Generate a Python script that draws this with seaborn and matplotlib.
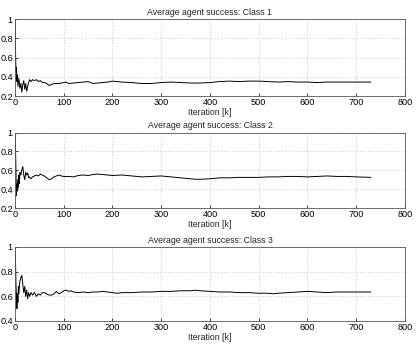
import matplotlib
matplotlib.use("Agg")
import matplotlib.pyplot as plt
import seaborn as sns
import pandas as pd

# ---- data ----
x1 = [0, 1, 2, 3, 4, 5, 6, 8, 10, 12, 14, 16, 18, 20, 22, 24, 26, 28, 30, 33, 36, 40, 44, 48, 52,
      56, 60, 65, 70, 75, 80, 90, 100, 105, 110, 120, 130, 140, 150, 160, 170, 180, 190, 200, 210,
      220, 240, 260, 280, 300, 320, 340, 360, 380, 400, 420, 440, 460, 480, 500, 520, 540, 560, 580,
      600, 620, 640, 660, 680, 700, 730]
y1 = [1.0, 0.7, 0.45, 0.5, 0.35, 0.42, 0.3, 0.38, 0.28, 0.33, 0.24, 0.32, 0.36, 0.27, 0.33, 0.25,
      0.3, 0.34, 0.37, 0.35, 0.37, 0.36, 0.37, 0.35, 0.36, 0.34, 0.34, 0.33, 0.31, 0.32, 0.33, 0.33,
      0.34, 0.345, 0.33, 0.335, 0.34, 0.345, 0.35, 0.33, 0.335, 0.34, 0.345, 0.355, 0.35, 0.345, 0.34,
      0.33, 0.33, 0.34, 0.345, 0.34, 0.335, 0.335, 0.34, 0.35, 0.355, 0.35, 0.355, 0.355, 0.35, 0.345,
      0.35, 0.345, 0.345, 0.34, 0.345, 0.345, 0.345, 0.345, 0.345]

x2 = [0, 1, 2, 3, 4, 5, 6, 7, 8, 9, 10, 12, 14, 16, 18, 20, 22, 24, 26, 28, 30, 33, 36, 40, 44, 48,
      52, 56, 60, 65, 70, 75, 80, 85, 90, 95, 100, 110, 120, 130, 140, 150, 160, 170, 180, 190, 200,
      220, 240, 260, 280, 300, 320, 340, 360, 370, 380, 400, 420, 440, 460, 480, 500, 520, 540, 560,
      580, 600, 620, 640, 660, 680, 700, 730]
y2 = [1.0, 0.85, 0.6, 0.33, 0.45, 0.38, 0.5, 0.42, 0.55, 0.46, 0.58, 0.55, 0.6, 0.64, 0.55, 0.5,
      0.58, 0.55, 0.57, 0.52, 0.53, 0.51, 0.53, 0.54, 0.55, 0.54, 0.56, 0.55, 0.54, 0.52, 0.5, 0.51,
      0.53, 0.54, 0.55, 0.54, 0.535, 0.535, 0.53, 0.545, 0.55, 0.545, 0.555, 0.56, 0.555, 0.55, 0.545,
      0.55, 0.54, 0.53, 0.535, 0.54, 0.53, 0.52, 0.51, 0.505, 0.505, 0.51, 0.52, 0.52, 0.525, 0.525,
      0.525, 0.53, 0.53, 0.535, 0.535, 0.53, 0.535, 0.54, 0.535, 0.535, 0.53, 0.525]

x3 = [0, 1, 2, 3, 4, 5, 6, 7, 8, 10, 12, 14, 16, 18, 20, 22, 24, 26, 28, 30, 33, 36, 40, 44, 48, 52,
      56, 60, 65, 70, 75, 80, 85, 90, 95, 100, 105, 110, 115, 120, 130, 140, 150, 160, 170, 180, 190,
      200, 210, 220, 240, 260, 280, 300, 320, 340, 360, 370, 380, 400, 420, 440, 460, 480, 500, 520,
      530, 540, 560, 580, 600, 620, 640, 660, 680, 700, 730]
y3 = [1.0, 0.9, 0.7, 0.6, 0.5, 0.62, 0.55, 0.68, 0.62, 0.72, 0.75, 0.77, 0.7, 0.63, 0.68, 0.6, 0.65,
      0.58, 0.63, 0.6, 0.63, 0.61, 0.63, 0.6, 0.62, 0.61, 0.63, 0.63, 0.62, 0.61, 0.61, 0.62, 0.64,
      0.62, 0.63, 0.645, 0.65, 0.64, 0.645, 0.635, 0.63, 0.635, 0.63, 0.635, 0.635, 0.64, 0.635, 0.63,
      0.625, 0.63, 0.63, 0.635, 0.635, 0.64, 0.64, 0.645, 0.645, 0.65, 0.645, 0.64, 0.635, 0.635, 0.63,
      0.63, 0.625, 0.625, 0.62, 0.625, 0.63, 0.635, 0.64, 0.635, 0.63, 0.635, 0.635, 0.635, 0.635]

titles = ["Average agent success: Class 1", "Average agent success: Class 2",
          "Average agent success: Class 3"]
xlabel = "Iteration [k]"
xticks = [0, 100, 200, 300, 400, 500, 600, 700, 800]
yticks_list = [[0.2, 0.4, 0.6, 0.8, 1.0], [0.2, 0.4, 0.6, 0.8, 1.0], [0.4, 0.6, 0.8, 1.0]]
ylims = [(0.2, 1.0), (0.2, 1.0), (0.4, 1.0)]

sns.set_style("ticks")
plt.rcParams["font.family"] = ["Liberation Sans", "DejaVu Sans"]
plt.rcParams["font.size"] = 6.5

fig = plt.figure(figsize=(4.16, 3.46), dpi=100)
boxes = [(0.036, 0.7225, 0.9375, 0.2225),
         (0.036, 0.3988, 0.9375, 0.2180),
         (0.036, 0.0723, 0.9375, 0.2139)]

series = [(x1, y1), (x2, y2), (x3, y3)]

def fmt(v):
    return "1" if abs(v - 1) < 1e-9 else f"{v:.1f}"

for i, ((xs, ys), box) in enumerate(zip(series, boxes)):
    ax = fig.add_axes(box)
    df = pd.DataFrame({"x": xs, "y": ys})
    sns.lineplot(data=df, x="x", y="y", ax=ax, color="black", linewidth=0.7)
    ax.set_xlim(0, 800)
    ax.set_ylim(*ylims[i])
    ax.set_xticks(xticks)
    ax.set_xticklabels([str(t) for t in xticks], fontsize=6.6)
    ax.set_yticks(yticks_list[i])
    ax.set_yticklabels([fmt(t) for t in yticks_list[i]], fontsize=6.6)
    ax.tick_params(direction="in", length=2.5, width=0.5, pad=1.5, colors="black")
    ax.grid(True, linestyle=(0, (1, 3)), color="#999999", linewidth=0.5)
    for s in ax.spines.values():
        s.set_linewidth(0.6)
        s.set_color("#555555")
    ax.set_title(titles[i], fontsize=6.3, pad=3)
    ax.set_xlabel(xlabel, fontsize=6.3, labelpad=0.5)
    ax.set_ylabel("")

fig.savefig("out.png", dpi=100)
